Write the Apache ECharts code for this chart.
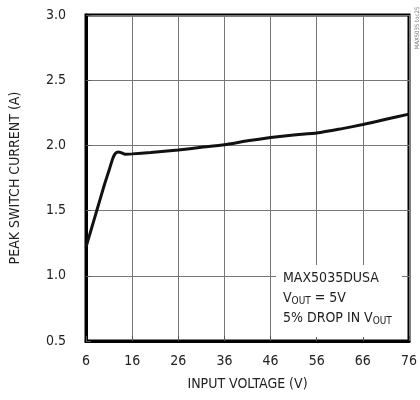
<!DOCTYPE html>
<html>
<head>
<meta charset="utf-8">
<script src="https://cdn.jsdelivr.net/npm/echarts@6/dist/echarts.min.js"></script>
<style>
html,body{margin:0;padding:0;background:#fff;}
#c{width:420px;height:400px;}
</style>
</head>
<body>
<div id="c"></div>
<script>
var inputVoltage = [6, 7, 8, 9, 10, 11, 11.8, 12.4, 13, 13.6, 14.5, 16, 20, 26, 31, 36, 41, 46, 51, 56, 61, 66, 71, 76];
var peakCurrent  = [1.22, 1.34, 1.46, 1.58, 1.70, 1.81, 1.90, 1.94, 1.95, 1.945, 1.932, 1.935, 1.945, 1.965, 1.985, 2.005, 2.035, 2.06, 2.08, 2.095, 2.125, 2.16, 2.2, 2.24];
var xTicks = [6, 16, 26, 36, 46, 56, 66, 76];
var yTicks = [0.5, 1.0, 1.5, 2.0, 2.5, 3.0];

var FONT = "'Liberation Sans Narrow', 'DejaVu Sans Condensed', 'Roboto Condensed', sans-serif";
var chart = echarts.init(document.getElementById('c'), null, {renderer: 'canvas'});
var pts = inputVoltage.map(function (v, i) { return [v, peakCurrent[i]]; });

chart.setOption({
  animation: false,
  backgroundColor: '#fff',
  grid: {left: 86, right: 10, top: 15, bottom: 59, show: true, borderColor: '#000', borderWidth: 3},
  xAxis: {
    type: 'value', min: xTicks[0], max: xTicks[xTicks.length - 1], interval: 10,
    name: 'INPUT VOLTAGE (V)', nameLocation: 'middle', nameGap: 36,
    nameTextStyle: {fontFamily: FONT, fontSize: 14, color: '#222'},
    axisLine: {show: true, lineStyle: {color: '#000', width: 3}},
    axisTick: {show: true, inside: true, length: 5, lineStyle: {color: '#555', width: 1}},
    axisLabel: {fontFamily: FONT, fontSize: 14, color: '#222', margin: 13},
    splitLine: {show: true, lineStyle: {color: '#777', width: 1}}
  },
  yAxis: {
    type: 'value', min: yTicks[0], max: yTicks[yTicks.length - 1], interval: 0.5,
    name: 'PEAK SWITCH CURRENT (A)', nameLocation: 'middle', nameGap: 64,
    nameTextStyle: {fontFamily: FONT, fontSize: 14, color: '#222'},
    axisLine: {show: true, lineStyle: {color: '#000', width: 3}},
    axisTick: {show: true, inside: true, length: 5, lineStyle: {color: '#555', width: 1}},
    axisLabel: {fontFamily: FONT, fontSize: 14, color: '#222', margin: 20,
      formatter: function (v) { return v.toFixed(1); }},
    splitLine: {show: true, lineStyle: {color: '#777', width: 1}}
  },
  series: [{
    type: 'line', data: pts, smooth: 0.15, showSymbol: false,
    lineStyle: {color: '#111', width: 3}, z: 3
  }],
  graphic: [
    {type: 'rect', shape: {x: 276, y: 265, width: 126, height: 72}, style: {fill: '#fff'}, z: 10},
    {type: 'text', left: 283, top: 271, z: 11,
      style: {text: 'MAX5035DUSA', font: '14px ' + FONT, fill: '#222'}},
    {type: 'text', left: 283, top: 291, z: 11,
      style: {text: '{n|V}{s|OUT}{n| = 5V}', rich: {n: {font: '14px ' + FONT, fill: '#222'}, s: {font: '10px ' + FONT, fill: '#222', padding: [6, 0, 0, 0]}}}},
    {type: 'text', left: 283, top: 311, z: 11,
      style: {text: '{n|5% DROP IN V}{s|OUT}', rich: {n: {font: '14px ' + FONT, fill: '#222'}, s: {font: '10px ' + FONT, fill: '#222', padding: [6, 0, 0, 0]}}}},
    {type: 'text', x: 417, y: 28, rotation: Math.PI / 2, z: 11,
      style: {text: 'MAX5035 toc25', font: '6px ' + FONT, fill: '#777', align: 'center', verticalAlign: 'middle'}}
  ]
});
</script>
</body>
</html>
